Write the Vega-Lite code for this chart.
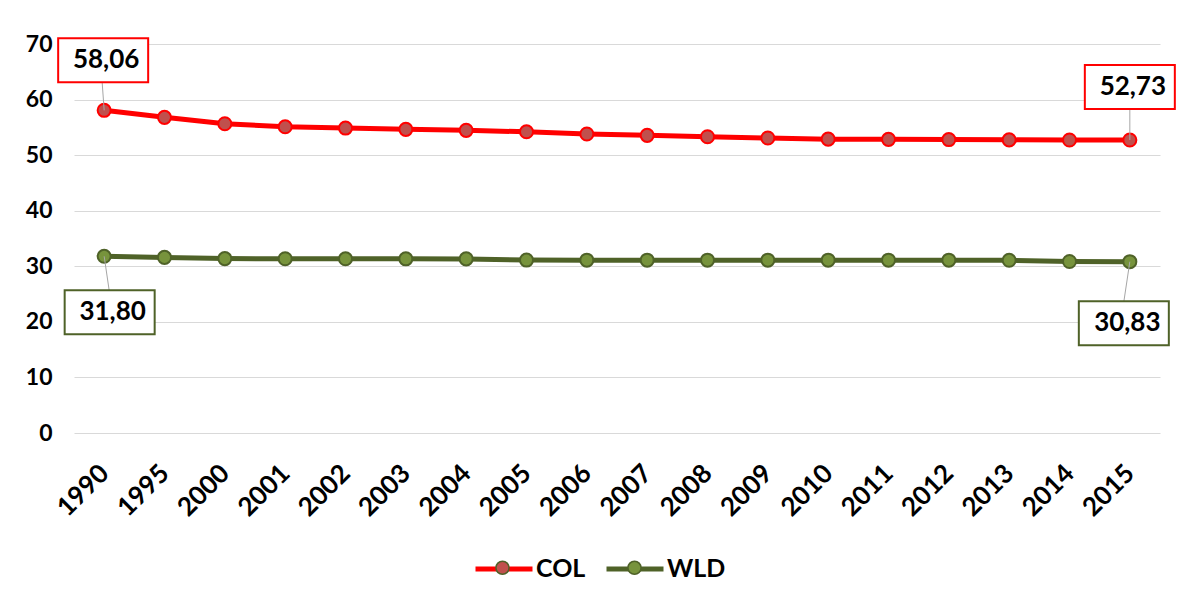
{
  "$schema": "https://vega.github.io/schema/vega-lite/v6.json",
  "width": 1086,
  "height": 389,
  "autosize": "none",
  "padding": {"left": 74, "top": 44, "right": 17, "bottom": 171},
  "background": "white",
  "config": {
    "view": {"stroke": null},
    "font": "Lato",
    "locale": {"number": {"decimal": ",", "thousands": ".", "grouping": [3], "currency": ["", ""]}}
  },
  "data": {
    "values": [
      {"year": 1990, "series": "COL", "value": 58.06},
      {"year": 1995, "series": "COL", "value": 56.8},
      {"year": 2000, "series": "COL", "value": 55.65},
      {"year": 2001, "series": "COL", "value": 55.1},
      {"year": 2002, "series": "COL", "value": 54.87},
      {"year": 2003, "series": "COL", "value": 54.64},
      {"year": 2004, "series": "COL", "value": 54.46},
      {"year": 2005, "series": "COL", "value": 54.2},
      {"year": 2006, "series": "COL", "value": 53.8},
      {"year": 2007, "series": "COL", "value": 53.56},
      {"year": 2008, "series": "COL", "value": 53.31},
      {"year": 2009, "series": "COL", "value": 53.08},
      {"year": 2010, "series": "COL", "value": 52.88},
      {"year": 2011, "series": "COL", "value": 52.84},
      {"year": 2012, "series": "COL", "value": 52.8},
      {"year": 2013, "series": "COL", "value": 52.75},
      {"year": 2014, "series": "COL", "value": 52.73},
      {"year": 2015, "series": "COL", "value": 52.73},
      {"year": 1990, "series": "WLD", "value": 31.8},
      {"year": 1995, "series": "WLD", "value": 31.6},
      {"year": 2000, "series": "WLD", "value": 31.38},
      {"year": 2001, "series": "WLD", "value": 31.36},
      {"year": 2002, "series": "WLD", "value": 31.35},
      {"year": 2003, "series": "WLD", "value": 31.34},
      {"year": 2004, "series": "WLD", "value": 31.33},
      {"year": 2005, "series": "WLD", "value": 31.12},
      {"year": 2006, "series": "WLD", "value": 31.1},
      {"year": 2007, "series": "WLD", "value": 31.1},
      {"year": 2008, "series": "WLD", "value": 31.1},
      {"year": 2009, "series": "WLD", "value": 31.1},
      {"year": 2010, "series": "WLD", "value": 31.1},
      {"year": 2011, "series": "WLD", "value": 31.1},
      {"year": 2012, "series": "WLD", "value": 31.1},
      {"year": 2013, "series": "WLD", "value": 31.08},
      {"year": 2014, "series": "WLD", "value": 30.86},
      {"year": 2015, "series": "WLD", "value": 30.83}
    ]
  },
  "encoding": {
    "x": {
      "field": "year",
      "type": "ordinal",
      "scale": {"type": "point", "padding": 0.5},
      "axis": {
        "title": null,
        "labelAngle": -45,
        "labelAlign": "right",
        "labelBaseline": "middle",
        "labelFontSize": 26,
        "labelFontWeight": "bold",
        "labelColor": "black",
        "labelPadding": 36,
        "ticks": false,
        "domain": false,
        "grid": false
      }
    },
    "y": {
      "field": "value",
      "type": "quantitative",
      "scale": {"domain": [0, 70], "nice": false, "zero": true},
      "axis": {
        "title": null,
        "values": [0, 10, 20, 30, 40, 50, 60, 70],
        "grid": true,
        "gridColor": "#D9D9D9",
        "gridWidth": 1,
        "domain": false,
        "ticks": false,
        "labelFontSize": 23,
        "labelFontWeight": "bold",
        "labelColor": "black",
        "labelPadding": 22
      }
    }
  },
  "layer": [
    {
      "mark": {"type": "line", "strokeWidth": 5},
      "encoding": {
        "color": {
          "field": "series",
          "type": "nominal",
          "scale": {"domain": ["COL", "WLD"], "range": ["#FF0000", "#4F6228"]},
          "legend": {
            "orient": "none",
            "legendX": 399,
            "legendY": 494,
            "direction": "horizontal",
            "title": null,
            "symbolType": "stroke",
            "symbolSize": 3249,
            "symbolStrokeWidth": 5,
            "labelFontSize": 25,
            "labelFontWeight": "bold",
            "labelColor": "black",
            "labelOffset": 1,
            "columnPadding": 10
          }
        }
      }
    },
    {
      "mark": {"type": "point", "filled": true, "size": 170, "strokeWidth": 2, "opacity": 1},
      "encoding": {
        "fill": {
          "field": "series",
          "type": "nominal",
          "scale": {"domain": ["COL", "WLD", "~"], "range": ["#C0504D", "#77933C", "#FFFFFF"]},
          "legend": {
            "values": ["COL", "WLD"],
            "orient": "none",
            "legendX": 399,
            "legendY": 494,
            "direction": "horizontal",
            "title": null,
            "symbolType": "M-0.23,0A0.23,0.23 0 1,0 0.23,0A0.23,0.23 0 1,0 -0.23,0Z",
            "symbolSize": 3249,
            "symbolOpacity": 1,
            "labelFontSize": 25,
            "labelFontWeight": "bold",
            "labelExpr": "''",
            "labelOffset": 1,
            "columnPadding": 72,
            "encode": {
              "symbols": {
                "update": {
                  "stroke": {"signal": "datum.value === 'COL' ? '#FF0000' : '#4F6228'"},
                  "strokeWidth": {"value": 1.5}
                }
              }
            }
          }
        },
        "stroke": {
          "condition": {"test": "datum.series === 'COL'", "value": "#FF0000"},
          "value": "#4F6228"
        }
      }
    },
    {
      "transform": [{"filter": "datum.series === 'COL' && datum.year === 1990"}],
      "layer": [
        {
          "mark": {"type": "rule", "color": "#A6A6A6", "strokeWidth": 1, "x2Offset": -2, "y2Offset": -28},
          "encoding": {"x2": {"field": "year"}, "y2": {"field": "value"}}
        },
        {
          "mark": {"type": "point", "shape": "M-1,-0.489H1V0.489H-1Z", "size": 8100, "filled": true, "fill": "white", "stroke": "#FF0000", "strokeWidth": 2, "opacity": 1, "xOffset": -1, "yOffset": -50}
        },
        {
          "mark": {"type": "text", "dx": 2, "dy": -50, "fontSize": 26, "fontWeight": "bold", "color": "black"},
          "encoding": {"text": {"field": "value", "type": "quantitative", "format": ".2f"}}
        }
      ]
    },
    {
      "transform": [{"filter": "datum.series === 'COL' && datum.year === 2015"}],
      "layer": [
        {
          "mark": {"type": "rule", "color": "#A6A6A6", "strokeWidth": 1, "y2Offset": -31},
          "encoding": {"x2": {"field": "year"}, "y2": {"field": "value"}}
        },
        {
          "mark": {"type": "point", "shape": "M-1,-0.489H1V0.489H-1Z", "size": 8100, "filled": true, "fill": "white", "stroke": "#FF0000", "strokeWidth": 2, "opacity": 1, "yOffset": -53}
        },
        {
          "mark": {"type": "text", "dx": 3, "dy": -53, "fontSize": 26, "fontWeight": "bold", "color": "black"},
          "encoding": {"text": {"field": "value", "type": "quantitative", "format": ".2f"}}
        }
      ]
    },
    {
      "transform": [{"filter": "datum.series === 'WLD' && datum.year === 1990"}],
      "layer": [
        {
          "mark": {"type": "rule", "color": "#A6A6A6", "strokeWidth": 1, "x2Offset": 5, "y2Offset": 34},
          "encoding": {"x2": {"field": "year"}, "y2": {"field": "value"}}
        },
        {
          "mark": {"type": "point", "shape": "M-1,-0.489H1V0.489H-1Z", "size": 8100, "filled": true, "fill": "white", "stroke": "#4F6228", "strokeWidth": 2, "opacity": 1, "xOffset": 5.5, "yOffset": 56}
        },
        {
          "mark": {"type": "text", "dx": 8.5, "dy": 56, "fontSize": 26, "fontWeight": "bold", "color": "black"},
          "encoding": {"text": {"field": "value", "type": "quantitative", "format": ".2f"}}
        }
      ]
    },
    {
      "transform": [{"filter": "datum.series === 'WLD' && datum.year === 2015"}],
      "layer": [
        {
          "mark": {"type": "rule", "color": "#A6A6A6", "strokeWidth": 1, "x2Offset": -6, "y2Offset": 40},
          "encoding": {"x2": {"field": "year"}, "y2": {"field": "value"}}
        },
        {
          "mark": {"type": "point", "shape": "M-1,-0.489H1V0.489H-1Z", "size": 8100, "filled": true, "fill": "white", "stroke": "#4F6228", "strokeWidth": 2, "opacity": 1, "xOffset": -6, "yOffset": 61.5}
        },
        {
          "mark": {"type": "text", "dx": -2.5, "dy": 61.5, "fontSize": 26, "fontWeight": "bold", "color": "black"},
          "encoding": {"text": {"field": "value", "type": "quantitative", "format": ".2f"}}
        }
      ]
    }
  ]
}
